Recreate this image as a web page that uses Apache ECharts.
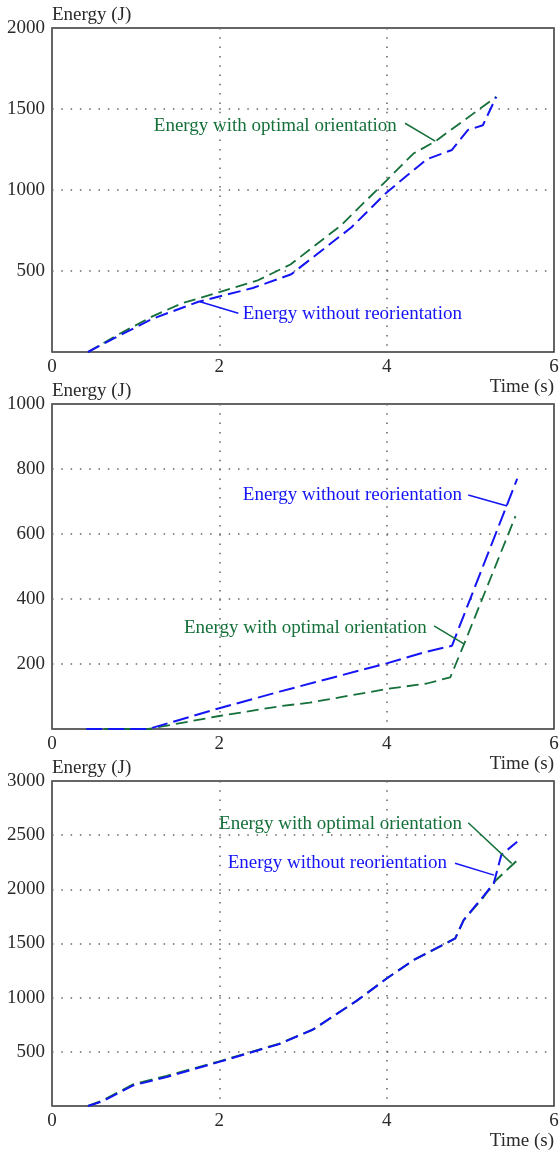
<!DOCTYPE html>
<html>
<head>
<meta charset="utf-8">
<title>Energy vs time</title>
<script src="https://cdn.jsdelivr.net/npm/echarts/dist/echarts.min.js"></script>
<style>
  html, body { margin: 0; padding: 0; background: #fff; }
  #chart { width: 559px; height: 1153px; }
</style>
</head>
<body>
<div id="chart"></div>
<script>
// x ticks (time, s)
const timeTicks = [0, 2, 4, 6];
const yMax = [2000, 1000, 3000];
const yStep = [500, 200, 500];

// panel 1
const t1Opt = [0.43, 0.8, 1.2, 1.55, 2.0, 2.45, 2.85, 3.45, 4.0, 4.32, 4.58, 5.31];
const e1Opt = [0, 110, 220, 300, 370, 440, 540, 780, 1060, 1225, 1300, 1575];
const t1No = [0.43, 0.8, 1.2, 1.75, 2.4, 2.86, 3.58, 4.0, 4.48, 4.78, 4.97, 5.15, 5.31];
const e1No = [0, 100, 205, 310, 395, 480, 770, 985, 1190, 1247, 1370, 1400, 1575];

// panel 2
const t2Opt = [0.41, 1.15, 2.0, 2.72, 3.08, 4.0, 4.48, 4.76, 4.92, 5.54];
const e2Opt = [0, 0, 40, 70, 81, 123, 140, 159, 258, 655];
const t2No = [0.41, 1.15, 2.0, 2.72, 4.0, 4.48, 4.78, 5.56];
const e2No = [0, 0, 64, 115, 202, 238, 256, 770];

// panel 3
const t3Opt = [0.43, 0.6, 0.97, 1.37, 2.0, 2.72, 3.12, 3.64, 4.0, 4.32, 4.72, 4.82, 4.92, 5.15, 5.3, 5.55];
const e3Opt = [0, 48, 200, 278, 412, 576, 706, 970, 1177, 1346, 1506, 1547, 1716, 1920, 2080, 2260];
const t3No = [0.43, 0.6, 0.97, 1.37, 2.0, 2.72, 3.12, 3.64, 4.0, 4.32, 4.72, 4.82, 4.92, 5.15, 5.28, 5.37, 5.56];
const e3No = [0, 42, 190, 268, 407, 573, 706, 970, 1177, 1346, 1506, 1547, 1716, 1931, 2055, 2317, 2440];

const GREEN = '#15703a';
const BLUE = '#1414f5';
const FONT = '"Liberation Serif", "DejaVu Serif", serif';
const OPT_NAME = 'Energy with optimal orientation';
const NO_NAME = 'Energy without reorientation';

const pairs = (t, e) => t.map((v, i) => [v, e[i]]);

// no outer-bounds shrinking, the frames sit where they are put
const grids = [
  { left: 52, top: 28, width: 502, height: 324 },
  { left: 52, top: 404, width: 502, height: 325 },
  { left: 52, top: 781, width: 502, height: 325 }
].map(g => Object.assign(g, {
  show: true, borderColor: '#333', borderWidth: 1.5,
  containLabel: false, outerBoundsMode: 'none'
}));

const dotted = { color: '#666', width: 1.5, type: [1.5, 7.8] };

const xAxes = grids.map((g, i) => ({
  type: 'value', gridIndex: i, min: timeTicks[0], max: timeTicks[timeTicks.length - 1], interval: 2,
  axisLine: { show: false }, axisTick: { show: false },
  splitLine: { show: true, lineStyle: dotted },
  axisLabel: { fontFamily: FONT, fontSize: 19, color: '#2a2a2a', margin: 6 },
  name: 'Time (s)', nameLocation: 'end', nameGap: 0,
  nameTextStyle: { fontFamily: FONT, fontSize: 19, color: '#2a2a2a', align: 'right', verticalAlign: 'top', padding: [26, 0, 0, 0] }
}));

const yAxes = grids.map((g, i) => ({
  type: 'value', gridIndex: i, min: 0, max: yMax[i], interval: yStep[i],
  axisLine: { show: false }, axisTick: { show: false },
  splitLine: { show: true, lineStyle: dotted },
  axisLabel: { fontFamily: FONT, fontSize: 19, color: '#2a2a2a', margin: 7, showMinLabel: false,
    formatter: v => String(v) },
  name: 'Energy (J)', nameLocation: 'end', nameGap: 3,
  nameTextStyle: { fontFamily: FONT, fontSize: 19, color: '#2a2a2a', align: 'left', verticalAlign: 'bottom' }
}));

// leader line + label for one curve (in data coords)
function note(color, text, textAt, side, from, to) {
  return {
    markLine: {
      silent: true, symbol: ['none', 'none'], animation: false,
      label: { show: false },
      lineStyle: { type: 'solid', width: 1.5, color: color },
      data: [[{ coord: from }, { coord: to }]]
    },
    markPoint: {
      silent: true, animation: false, symbol: 'circle', symbolSize: 0,
      itemStyle: { color: 'rgba(0,0,0,0)' },
      label: { show: true, position: side, distance: 0, formatter: text, color: color, fontFamily: FONT, fontSize: 19 },
      data: [{ coord: textAt }]
    }
  };
}

function curve(i, name, color, dash, width, data, extra) {
  return Object.assign({
    type: 'line', name: name, xAxisIndex: i, yAxisIndex: i,
    data: data, showSymbol: false, symbol: 'none', animation: false,
    lineStyle: { color: color, width: width, type: dash }
  }, extra);
}

const series = [
  curve(0, OPT_NAME, GREEN, [12, 6], 1.8, pairs(t1Opt, e1Opt),
    note(GREEN, OPT_NAME, [4.12, 1395], 'left', [4.22, 1412], [4.58, 1302])),
  curve(0, NO_NAME, BLUE, [13, 6], 2, pairs(t1No, e1No),
    note(BLUE, NO_NAME, [2.28, 235], 'right', [2.227, 239], [1.77, 310])),

  curve(1, OPT_NAME, GREEN, [12, 6], 1.8, pairs(t2Opt, e2Opt),
    note(GREEN, OPT_NAME, [4.48, 310], 'left', [4.566, 317], [4.924, 262])),
  curve(1, NO_NAME, BLUE, [16, 6], 2, pairs(t2No, e2No),
    note(BLUE, NO_NAME, [4.9, 720], 'left', [4.975, 720], [5.44, 686])),

  curve(2, OPT_NAME, GREEN, [13, 6], 2, pairs(t3Opt, e3Opt),
    note(GREEN, OPT_NAME, [4.9, 2603], 'left', [4.975, 2615], [5.494, 2240])),
  curve(2, NO_NAME, BLUE, [13, 6], 2, pairs(t3No, e3No),
    note(BLUE, NO_NAME, [4.72, 2240], 'left', [4.817, 2240], [5.283, 2131]))
];

const chart = echarts.init(document.getElementById('chart'), null, { renderer: 'canvas' });
chart.setOption({
  animation: false,
  backgroundColor: '#fff',
  grid: grids,
  xAxis: xAxes,
  yAxis: yAxes,
  series: series
});
</script>
</body>
</html>
